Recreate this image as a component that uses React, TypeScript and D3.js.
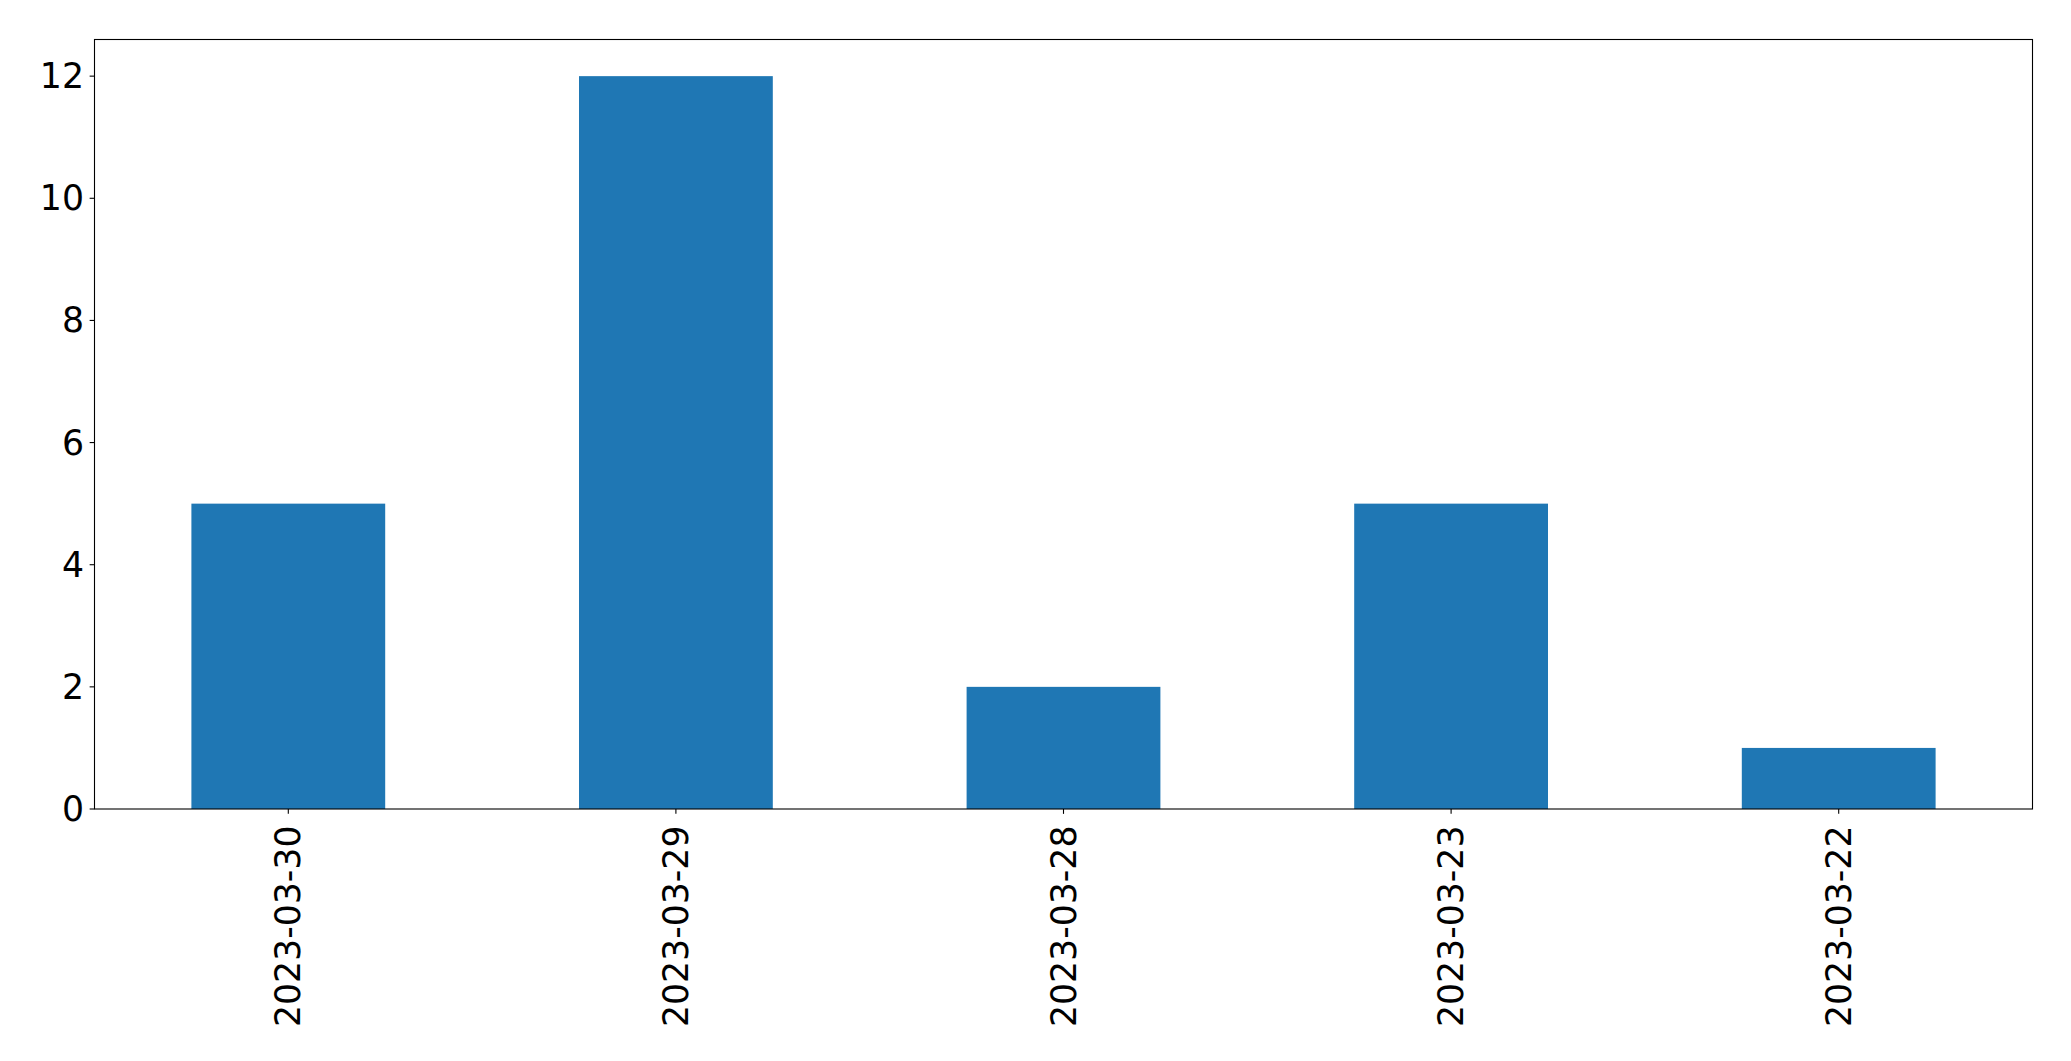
import React from "react";
import * as d3 from "d3";

const categories: string[] = ["2023-03-30", "2023-03-29", "2023-03-28", "2023-03-23", "2023-03-22"];
const values: number[] = [5, 12, 2, 5, 1];
const yTicks: number[] = [0, 2, 4, 6, 8, 10, 12];

const W = 2071;
const H = 1061;
const M = { left: 94.5, right: 2032.5, top: 39.5, bottom: 809 };
const FONT = "'DejaVu Sans', sans-serif";
const FS = 34.7;

export default function App() {
  const x = d3
    .scaleBand<string>()
    .domain(categories)
    .range([M.left, M.right])
    .paddingInner(0.5)
    .paddingOuter(0.25);
  const y = d3.scaleLinear().domain([0, 12.6]).range([M.bottom, M.top]);
  const tickLen = 4.86;

  return (
    <svg
      width={W}
      height={H}
      style={{ position: "absolute", left: 0, top: 0, background: "#fff" }}
    >
      <rect x={0} y={0} width={W} height={H} fill="#fff" />
      {categories.map((c, i) => (
        <rect
          key={c}
          x={x(c)!}
          width={x.bandwidth()}
          y={y(values[i])}
          height={y(0) - y(values[i])}
          fill="#1f77b4"
        />
      ))}
      <rect
        x={M.left}
        y={M.top}
        width={M.right - M.left}
        height={M.bottom - M.top}
        fill="none"
        stroke="#000"
        strokeWidth={1.1}
      />
      {yTicks.map((t) => (
        <g key={t}>
          <line x1={M.left - tickLen} x2={M.left} y1={y(t)} y2={y(t)} stroke="#000" strokeWidth={1.1} />
          <text
            x={84}
            y={y(t)}
            textAnchor="end"
            dominantBaseline="central"
            fontFamily={FONT}
            fontSize={FS}
            fill="#000"
          >
            {t}
          </text>
        </g>
      ))}
      {categories.map((c) => {
        const cx = x(c)! + x.bandwidth() / 2;
        const ty = M.bottom + 16.5;
        return (
          <g key={c}>
            <line x1={cx} x2={cx} y1={M.bottom} y2={M.bottom + tickLen} stroke="#000" strokeWidth={1.1} />
            <text
              transform={`translate(${cx},${ty}) rotate(-90)`}
              textAnchor="end"
              dominantBaseline="central"
              fontFamily={FONT}
              fontSize={FS}
              fill="#000"
            >
              {c}
            </text>
          </g>
        );
      })}
    </svg>
  );
}
